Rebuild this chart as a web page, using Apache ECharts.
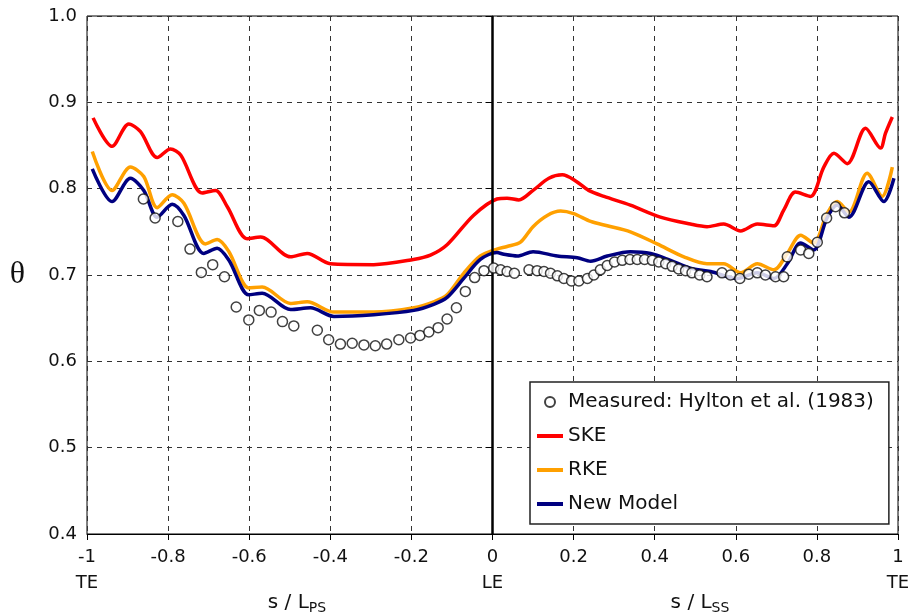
<!DOCTYPE html>
<html>
<head>
<meta charset="utf-8">
<script src="https://cdn.jsdelivr.net/npm/echarts@6/dist/echarts.min.js"></script>
<style>
  html, body { margin: 0; padding: 0; background: #fff; }
  #main { width: 913px; height: 616px; }
</style>
</head>
<body>
<div id="main"></div>
<script>
// data: [s/L, theta]
const measured = [
  [-0.861,0.788],[-0.832,0.766],[-0.776,0.762],[-0.746,0.730],[-0.718,0.703],[-0.690,0.712],
  [-0.661,0.698],[-0.632,0.663],[-0.601,0.648],[-0.575,0.659],[-0.546,0.657],[-0.518,0.646],
  [-0.490,0.641],[-0.432,0.636],[-0.404,0.625],[-0.375,0.620],[-0.346,0.621],[-0.317,0.619],
  [-0.289,0.618],[-0.261,0.620],[-0.231,0.625],[-0.202,0.627],[-0.179,0.630],[-0.157,0.634],
  [-0.134,0.639],[-0.112,0.649],[-0.089,0.662],[-0.067,0.681],[-0.044,0.697],[-0.021,0.705],
  [0.003,0.708],[0.020,0.706],[0.036,0.704],[0.054,0.702],[0.090,0.706],[0.110,0.705],
  [0.127,0.704],[0.143,0.702],[0.160,0.699],[0.176,0.696],[0.195,0.693],[0.213,0.693],
  [0.234,0.696],[0.250,0.700],[0.266,0.706],[0.283,0.711],[0.301,0.715],[0.320,0.717],
  [0.339,0.718],[0.357,0.718],[0.375,0.718],[0.394,0.717],[0.410,0.715],[0.427,0.713],
  [0.443,0.710],[0.459,0.707],[0.476,0.705],[0.492,0.7025],[0.511,0.700],[0.529,0.698],
  [0.566,0.7025],[0.587,0.700],[0.610,0.696],[0.632,0.701],[0.653,0.7025],[0.673,0.700],
  [0.698,0.698],[0.718,0.698],[0.727,0.721],[0.760,0.729],[0.780,0.725],[0.801,0.738],
  [0.824,0.766],[0.846,0.779],[0.868,0.772]
];

const ske = [
  [-0.985,0.882],[-0.938,0.849],[-0.897,0.875],[-0.868,0.866],[-0.827,0.836],[-0.794,0.846],
  [-0.769,0.839],[-0.716,0.795],[-0.683,0.798],[-0.654,0.779],[-0.605,0.742],[-0.572,0.744],
  [-0.498,0.721],[-0.457,0.725],[-0.400,0.713],[-0.293,0.712],[-0.195,0.718],[-0.153,0.723],
  [-0.112,0.735],[-0.047,0.769],[0.011,0.788],[0.036,0.789],[0.065,0.787],[0.100,0.798],
  [0.139,0.812],[0.172,0.816],[0.205,0.809],[0.237,0.798],[0.275,0.791],[0.340,0.781],
  [0.414,0.767],[0.488,0.759],[0.529,0.756],[0.570,0.759],[0.612,0.751],[0.653,0.759],
  [0.694,0.757],[0.718,0.775],[0.747,0.796],[0.784,0.791],[0.817,0.825],[0.842,0.841],
  [0.875,0.829],[0.920,0.870],[0.957,0.847],[0.969,0.864],[0.986,0.883]
];

const rke = [
  [-0.987,0.843],[-0.938,0.798],[-0.893,0.825],[-0.860,0.814],[-0.827,0.778],[-0.790,0.793],
  [-0.761,0.783],[-0.708,0.736],[-0.679,0.741],[-0.650,0.727],[-0.601,0.685],[-0.568,0.686],
  [-0.498,0.667],[-0.457,0.669],[-0.391,0.657],[-0.293,0.657],[-0.194,0.662],[-0.145,0.669],
  [-0.112,0.677],[-0.071,0.702],[-0.030,0.722],[0.011,0.730],[0.036,0.733],[0.069,0.738],
  [0.100,0.756],[0.135,0.769],[0.168,0.774],[0.200,0.771],[0.242,0.762],[0.283,0.757],
  [0.340,0.750],[0.406,0.736],[0.472,0.721],[0.529,0.713],[0.570,0.713],[0.612,0.7025],
  [0.653,0.713],[0.694,0.706],[0.727,0.725],[0.760,0.746],[0.792,0.737],[0.825,0.771],
  [0.850,0.785],[0.879,0.773],[0.924,0.818],[0.961,0.791],[0.986,0.825]
];

const newModel = [
  [-0.987,0.823],[-0.938,0.785],[-0.893,0.812],[-0.860,0.798],[-0.827,0.767],[-0.790,0.782],
  [-0.761,0.769],[-0.712,0.725],[-0.679,0.731],[-0.650,0.717],[-0.601,0.677],[-0.568,0.679],
  [-0.498,0.660],[-0.449,0.662],[-0.391,0.652],[-0.293,0.654],[-0.194,0.659],[-0.145,0.666],
  [-0.112,0.674],[-0.071,0.696],[-0.030,0.718],[0.011,0.726],[0.028,0.724],[0.061,0.722],
  [0.100,0.727],[0.160,0.722],[0.209,0.720],[0.242,0.716],[0.283,0.722],[0.340,0.727],
  [0.390,0.725],[0.439,0.717],[0.488,0.708],[0.538,0.704],[0.603,0.696],[0.653,0.7025],
  [0.694,0.696],[0.727,0.713],[0.760,0.737],[0.792,0.729],[0.825,0.766],[0.850,0.781],
  [0.879,0.767],[0.928,0.808],[0.965,0.785],[0.990,0.812]
];

const seriesNames = ['Measured: Hylton et al. (1983)', 'SKE', 'RKE', 'New Model'];
const edgeLabels = { '-1': 'TE', '0': 'LE', '1': 'TE' };

const FONT = 'DejaVu Sans';
const LINE_ICON = 'path://M0 0H26V4H0Z';
const chart = echarts.init(document.getElementById('main'));

function axisTitle(sub, x) {
  return {
    text: '{a|s / L}{b|' + sub + '}', left: x, top: 586, textAlign: 'center',
    textStyle: { fontWeight: 'normal', rich: {
      a: { fontFamily: FONT, fontSize: 20, fontWeight: 'normal', color: '#111' },
      b: { fontFamily: FONT, fontSize: 14, fontWeight: 'normal', color: '#111', padding: [10, 0, 0, 0] }
    } }
  };
}

const option = {
  animation: false,
  backgroundColor: '#fff',
  grid: {
    left: 87, right: 15, top: 16, bottom: 82,
    show: true, borderColor: '#000', borderWidth: 1
  },
  title: [axisTitle('PS', 292), axisTitle('SS', 695)],
  legend: {
    orient: 'vertical',
    left: 530, top: 382,
    padding: [10, 15, 10, 7],
    itemGap: 14,
    itemWidth: 26,
    itemHeight: 10,
    borderColor: '#222',
    borderWidth: 1.5,
    backgroundColor: '#fff',
    textStyle: { fontFamily: FONT, fontSize: 20, color: '#111' },
    data: [
      { name: seriesNames[0], icon: 'circle' },
      { name: seriesNames[1], icon: LINE_ICON },
      { name: seriesNames[2], icon: LINE_ICON },
      { name: seriesNames[3], icon: LINE_ICON }
    ]
  },
  xAxis: {
    type: 'value',
    min: -1, max: 1, interval: 0.2,
    axisLine: { onZero: false, lineStyle: { color: '#000', width: 1 } },
    axisTick: { show: true, length: 6, lineStyle: { color: '#000' } },
    axisLabel: {
      fontFamily: FONT, fontSize: 18, color: '#111', margin: 10, lineHeight: 26,
      formatter: function (v) {
        const r = Math.round(v * 10) / 10;
        const key = String(r === 0 ? 0 : r);
        return edgeLabels[key] ? key + '\n' + edgeLabels[key] : key;
      }
    },
    splitLine: { show: true, lineStyle: { color: '#333', type: [5, 5], width: 1 } }
  },
  yAxis: {
    type: 'value',
    min: 0.4, max: 1.0, interval: 0.1,
    name: 'θ', nameLocation: 'middle', nameRotate: 0, nameGap: 62,
    nameTextStyle: { fontFamily: 'Liberation Serif', fontSize: 32, color: '#111' },
    axisLine: { show: true, lineStyle: { color: '#000', width: 1 } },
    axisTick: { show: true, length: 7, lineStyle: { color: '#000' } },
    axisLabel: {
      fontFamily: FONT, fontSize: 18, color: '#111', margin: 10,
      formatter: v => v.toFixed(1)
    },
    splitLine: { show: true, lineStyle: { color: '#333', type: [5, 5], width: 1 } }
  },
  series: [
    {
      name: seriesNames[1], type: 'line', data: ske, symbol: 'none', smooth: 0.3,
      lineStyle: { color: '#ff0000', width: 3.5 }, itemStyle: { color: '#ff0000' }, z: 3
    },
    {
      name: seriesNames[2], type: 'line', data: rke, symbol: 'none', smooth: 0.3,
      lineStyle: { color: '#ffa000', width: 3.5 }, itemStyle: { color: '#ffa000' }, z: 3
    },
    {
      name: seriesNames[3], type: 'line', data: newModel, symbol: 'none', smooth: 0.3,
      lineStyle: { color: '#000080', width: 3.5 }, itemStyle: { color: '#000080' }, z: 4
    },
    {
      name: seriesNames[0], type: 'scatter', data: measured,
      symbol: 'circle', symbolSize: 10,
      itemStyle: { color: '#fff', borderColor: '#111', borderWidth: 1.5 },
      z: 5,
      markLine: {
        silent: true, symbol: 'none', label: { show: false },
        lineStyle: { color: '#000', width: 2.5, type: 'solid' },
        data: [{ xAxis: 0 }]
      }
    }
  ]
};

chart.setOption(option);
</script>
</body>
</html>
